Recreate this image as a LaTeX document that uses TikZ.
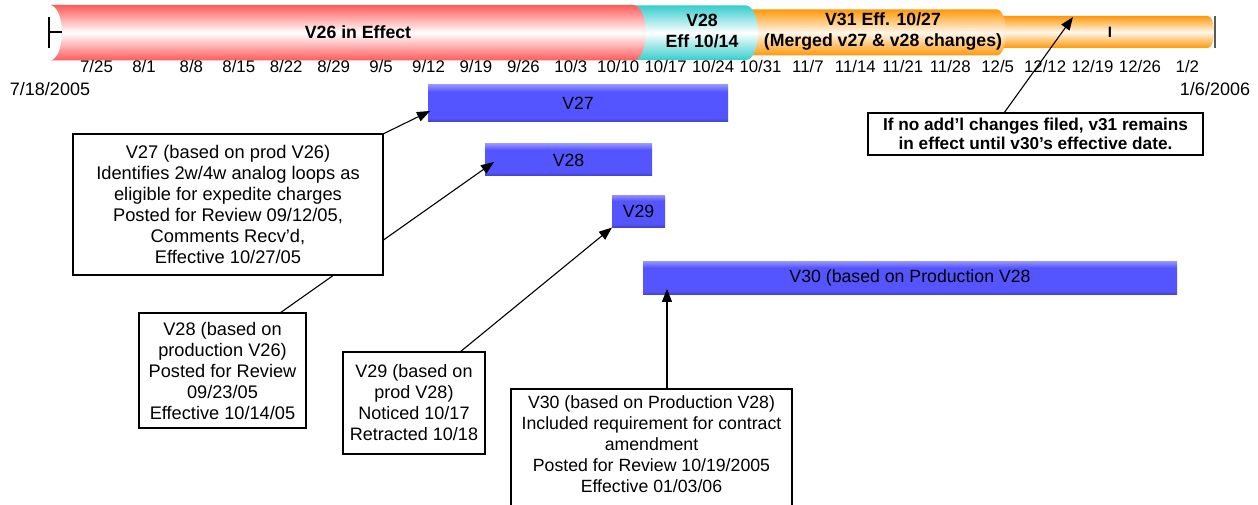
\documentclass[tikz,border=0pt]{standalone}
\usepackage{fontspec}
\setmainfont{Liberation Sans}
\usetikzlibrary{arrows.meta,calc}
\definecolor{tubered}{RGB}{255,90,90}
\definecolor{tubeteal}{RGB}{55,205,205}
\definecolor{tubeorange}{RGB}{255,152,8}
\definecolor{barblue}{RGB}{85,85,255}
\definecolor{bartop}{RGB}{145,145,255}
\definecolor{barbot}{RGB}{65,65,195}
\pgfdeclareverticalshading{bluebarshade}{100bp}{color(0bp)=(barbot); color(25bp)=(barbot); color(31bp)=(barblue); color(66bp)=(barblue); color(75bp)=(bartop); color(100bp)=(bartop)}
\pgfdeclarelayer{under}
\pgfdeclarelayer{arrowlayer}
\pgfsetlayers{under,arrowlayer,main}
\begin{document}
\begin{tikzpicture}[x=1pt,y=-1pt,
  every node/.style={inner sep=0pt, outer sep=0pt},
  tubelabel/.style={font=\bfseries\fontsize{17.7}{21}\selectfont, align=center},
  ticklabel/.style={font=\fontsize{16.8}{18}\selectfont},
  endlabel/.style={font=\fontsize{18}{20}\selectfont},
  bluebar/.style={shade, shading=bluebarshade, font=\fontsize{17.7}{21}\selectfont},
  notebox/.style={draw, fill=white, line width=1.2pt, align=center, font=\fontsize{17.7}{21}\selectfont},
  pointer/.style={line width=1.1pt, -{Triangle[length=13pt,width=10pt]}},
]
\useasboundingbox (0,0) rectangle (1258,505);
\begin{pgfonlayer}{under}
% tubes
\path[top color=tubeorange, bottom color=tubeorange, middle color=tubeorange!8!white]
  (990,16) -- (1208,16) arc[start angle=-90,end angle=90,x radius=6,y radius=16] -- (990,48) -- cycle;
\draw[line width=1.5pt, black!65] (1215,16) -- (1215,48);
\path[top color=tubeorange, bottom color=tubeorange, middle color=tubeorange!8!white]
  (740,9.5) -- (997,9.5) arc[start angle=-90,end angle=90,x radius=9,y radius=23] -- (740,55.5) -- cycle;
\path[top color=tubeteal, bottom color=tubeteal, middle color=white]
  (625,5.5) -- (746,5.5) arc[start angle=-90,end angle=90,x radius=12,y radius=27.25] -- (625,60) -- cycle;
\path[top color=tubered, bottom color=tubered, middle color=white]
  (50,5) -- (633,5) arc[start angle=-90,end angle=90,x radius=13,y radius=27.75] -- (50,60.5)
  arc[start angle=90,end angle=-90,x radius=12,y radius=27.75] -- cycle;
\draw[line width=2pt] (49,17) -- (49,48) (49,32.5) -- (62,32.5);
\node[tubelabel] (t26) at (358,32.5) {V26 in Effect};
\node[tubelabel] (t28) at (702,31) {V28\\Eff 10/14};
\node[tubelabel] (t31) at (883,31) {V31 Eff. 10/27\\(Merged v27 \& v28 changes)};
\node[font=\bfseries\fontsize{15}{15}\selectfont] (mark) at (1110,32) {I};
% ticks
\foreach \d [count=\i from 0] in {{7/25},{8/1},{8/8},{8/15},{8/22},{8/29},{9/5},{9/12},{9/19},{9/26},{10/3},{10/10},{10/17},{10/24},{10/31},{11/7},{11/14},{11/21},{11/28},{12/5},{12/12},{12/19},{12/26},{1/2}}
  \node[ticklabel] (tick\i) at (96.5+47.43*\i,66) {\d};
\node[endlabel] (start) at (50,89) {7/18/2005};
\node[endlabel] (end) at (1215,89) {1/6/2006};
% bars
\node[bluebar, minimum width=300pt, minimum height=37pt] (v27) at (578,103.5) {V27};
\node[bluebar, minimum width=167pt, minimum height=32pt] (v28) at (568.5,160) {V28};
\node[bluebar, minimum width=53pt, minimum height=32.5pt] (v29) at (638.5,211.3) {V29};
\node[bluebar, minimum width=534pt, minimum height=33.3pt] (v30) at (910,278.3) {V30 (based on Production V28};
\end{pgfonlayer}
% boxes
\node[notebox, font=\fontsize{18.3}{21}\selectfont, minimum width=310pt, minimum height=141pt] (b27) at (228,204.5)
  {V27 (based on prod V26)\\Identifies 2w/4w analog loops as\\eligible for expedite charges\\Posted for Review 09/12/05,\\Comments Recv'd,\\Effective 10/27/05};
\node[notebox, font=\fontsize{18.2}{21}\selectfont, minimum width=167pt, minimum height=115pt] (b28) at (222.5,370.5)
  {V28 (based on\\production V26)\\Posted for Review\\09/23/05\\Effective 10/14/05};
\node[notebox, font=\fontsize{18}{21}\selectfont, minimum width=142pt, minimum height=102pt] (b29) at (414,403)
  {V29 (based on\\prod V28)\\Noticed 10/17\\Retracted 10/18};
\node[notebox, anchor=north, minimum width=281pt, inner ysep=7pt] (b30) at (651.5,389)
  {V30 (based on Production V28)\\Included requirement for contract\\amendment\\Posted for Review 10/19/2005\\Effective 01/03/06\\ \strut};
\node[notebox, font=\bfseries\fontsize{17.2}{19.5}\selectfont, minimum width=335pt, minimum height=42pt] (note) at (1035.5,134)
  {If no add'l changes filed, v31 remains\\in effect until v30's effective date.};
% arrows
\begin{pgfonlayer}{arrowlayer}
\coordinate (p31) at (1073,17);
\draw[pointer] (b27.north east) -- ($(v27.south west)+(2,-11)$);
\draw[pointer] ($(b28.north west)+(141,0)$) -- ($(v28.south west)+(9,-14)$);
\draw[pointer] ($(b29.north west)+(117,0)$) -- (v29.south west);
\coordinate (p30) at ($(v30.south west)+(24,-6)$);
\draw[pointer] (p30 |- b30.north) -- (p30);
\draw[pointer] ($(note.north west)+(136,0)$) -- (p31);
\end{pgfonlayer}
\end{tikzpicture}
\end{document}
